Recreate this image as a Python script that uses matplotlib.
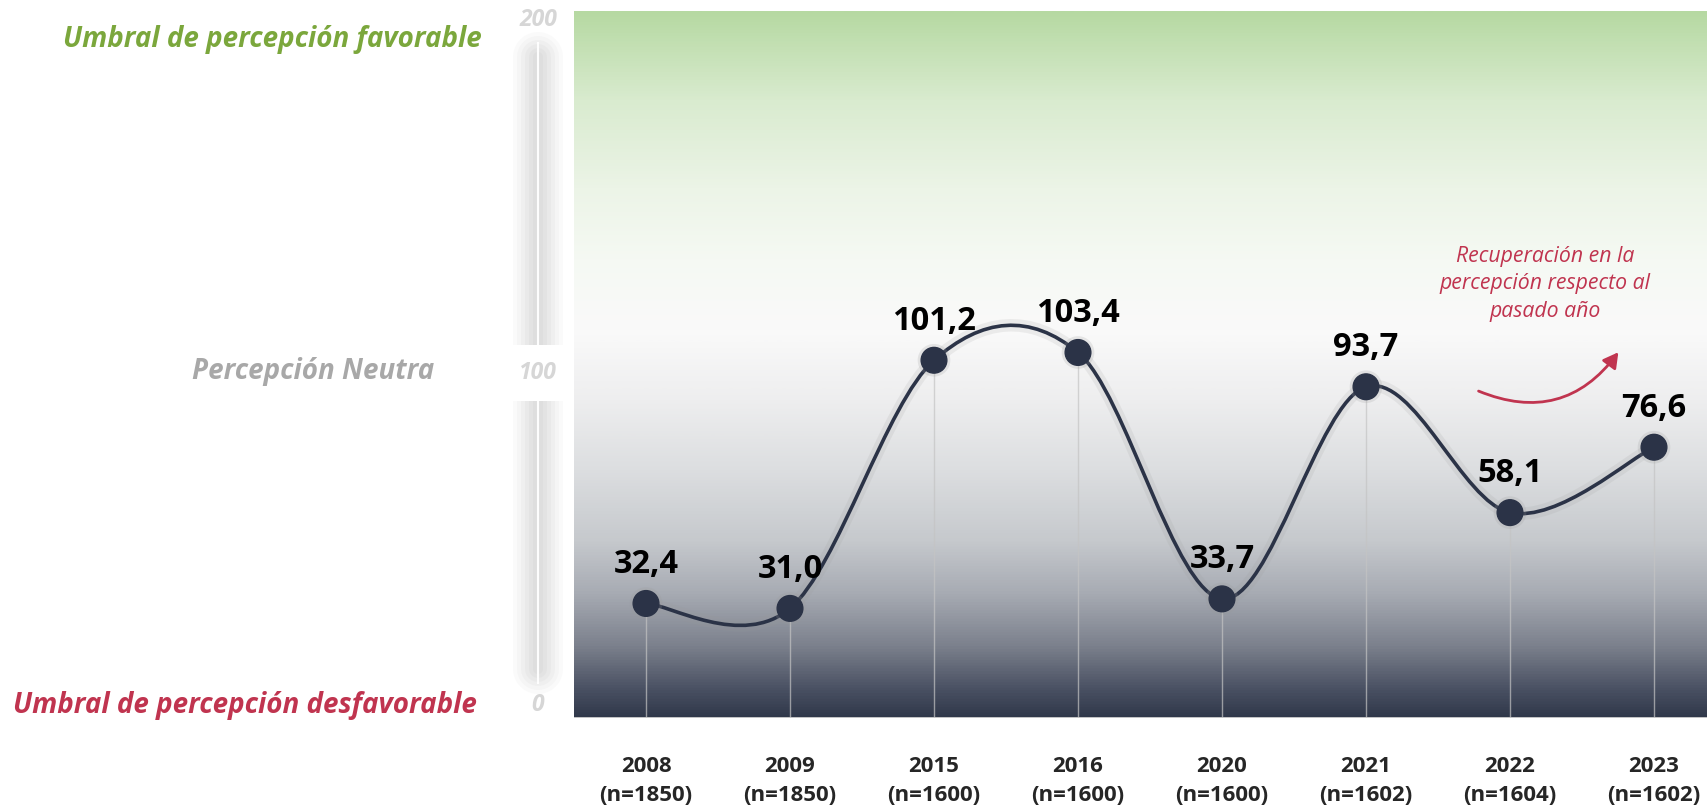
import numpy as np
import matplotlib
matplotlib.use("Agg")
import matplotlib.pyplot as plt
import matplotlib.patheffects as pe
from matplotlib.colors import LinearSegmentedColormap
from matplotlib.path import Path
from matplotlib.patches import PathPatch, FancyArrowPatch

plt.rcParams['font.family'] = ['Open Sans', 'DejaVu Sans']

# data
years = ['2008', '2009', '2015', '2016', '2020', '2021', '2022', '2023']
sample_n = [1850, 1850, 1600, 1600, 1600, 1602, 1604, 1602]
values = [32.4, 31.0, 101.2, 103.4, 33.7, 93.7, 58.1, 76.6]
y_ticks = [0, 100, 200]

NAVY = '#2b3347'
RED = '#c0344f'
GREEN = '#7ba73c'

W, H = 1708, 806
fig = plt.figure(figsize=(W / 100, H / 100), dpi=100)
ax = fig.add_axes([574 / W, 1 - 718 / H, 1 - 574 / W, (718 - 11) / H])
ax.set_xlim(-0.5, 7.375)
ax.set_ylim(0, 200)

# background gradient: green at top, white in middle, navy at bottom
stops = [(0, '#30384a'), (8, '#4a5163'), (20, '#7b808c'), (35, '#a7abb3'),
         (50, '#c6c9cd'), (70, '#dcdee0'), (90, '#eeeeef'), (110, '#fafafa'),
         (130, '#f5f9f3'), (150, '#ecf4e7'), (175, '#d9ebcf'), (200, '#b6d9a2')]
cmap = LinearSegmentedColormap.from_list('bg', [(s / 200, c) for s, c in stops])
grad = np.linspace(0, 1, 512).reshape(-1, 1)
ax.imshow(grad, cmap=cmap, origin='lower', aspect='auto',
          extent=(-0.5, 7.375, 0, 200), zorder=0)
ax.axhline(0, color='#d4d4d4', lw=2, zorder=1)

x = np.arange(len(values))
y = np.array(values)

# drop lines
ax.vlines(x, 0, y, color='#c4c4c4', lw=1, alpha=0.7, zorder=2)

# smoothed line (Excel-like bezier through the points)
pts = np.column_stack([x, y]).astype(float)
verts = [pts[0]]
codes = [Path.MOVETO]
n = len(pts)
for i in range(n - 1):
    p0 = pts[max(i - 1, 0)]
    p1 = pts[i]
    p2 = pts[i + 1]
    p3 = pts[min(i + 2, n - 1)]
    c1 = p1 + (p2 - p0) / 6
    c2 = p2 - (p3 - p1) / 6
    verts += [c1, c2, p2]
    codes += [Path.CURVE4] * 3
curve = PathPatch(Path(verts, codes), facecolor='none', edgecolor=NAVY, lw=2.6,
                  zorder=3, capstyle='round')
curve.set_path_effects([pe.Stroke(linewidth=9, foreground='#9a9a9a', alpha=0.15),
                        pe.Normal()])
ax.add_patch(curve)

ax.plot(x, y, 'o', ms=18.5, color=NAVY, zorder=4,
        path_effects=[pe.Stroke(linewidth=5, foreground='#9a9a9a', alpha=0.2),
                      pe.Normal()])

for xi, v in zip(x, values):
    ax.annotate(f"{v:.1f}".replace('.', ','), (xi, v), xytext=(0, 28),
                textcoords='offset points', ha='center', va='center',
                fontsize=23.5, fontweight='bold', color='black', zorder=5)

ax.set_xticks(x)
ax.set_xticklabels([f"{yr}\n(n={s})" for yr, s in zip(years, sample_n)],
                   fontsize=16, fontweight='bold', color='#262626', linespacing=1.55)
ax.tick_params(axis='x', length=0, pad=27)
ax.set_yticks([])
for s in ax.spines.values():
    s.set_visible(False)

# annotation
ax.text((1545 - 574) / (W - 574), 1 - (284 - 11) / 707,
        "Recuperación en la\npercepción respecto al\npasado año",
        transform=ax.transAxes, ha='center', va='center', fontsize=15.3,
        style='italic', color=RED, linespacing=1.42)
arr = FancyArrowPatch(((1476 - 574) / (W - 574), (718 - 390) / 707),
                      ((1620 - 574) / (W - 574), (718 - 350) / 707),
                      transform=ax.transAxes, connectionstyle='arc3,rad=0.4',
                      arrowstyle='-|>,head_length=9,head_width=5',
                      color=RED, lw=2, zorder=6)
ax.add_patch(arr)

# left pseudo y-axis
ay = fig.add_axes([490 / W, 1 - 718 / H, 96 / W, (718 - 11) / H])
ay.set_xlim(0, 1)
ay.set_ylim(0, 200)
ay.axis('off')
for w, a in [(50, 0.04), (42, 0.045), (34, 0.05), (26, 0.05), (18, 0.055), (10, 0.055)]:
    ay.plot([0.5, 0.5], [14, 187], color='#8a8a8a', lw=w * 0.72, alpha=a,
            solid_capstyle='round')
ay.plot([0.5, 0.5], [10, 191], color='white', lw=1.5, alpha=0.95)
tick_pos = [3.7, 97.6, 197.5]
for t, p in zip(y_ticks, tick_pos):
    ay.text(0.5, p, str(t), ha='center', va='center', fontsize=16.5,
            fontweight='bold', style='italic', color='#d6d6d6',
            bbox=dict(boxstyle='square,pad=0.7', fc='white', ec='none') if t == 100 else None)

# threshold labels
fig.text(482 / W, 1 - 39 / H, "Umbral de percepción favorable", ha='right', va='center',
         fontsize=20, fontweight='bold', style='italic', color=GREEN)
fig.text(434 / W, 1 - 371 / H, "Percepción Neutra", ha='right', va='center',
         fontsize=20, fontweight='bold', style='italic', color='#a8a8a8')
fig.text(477 / W, 1 - 705 / H, "Umbral de percepción desfavorable", ha='right', va='center',
         fontsize=20, fontweight='bold', style='italic', color=RED)

fig.savefig('out.png', dpi=100)
